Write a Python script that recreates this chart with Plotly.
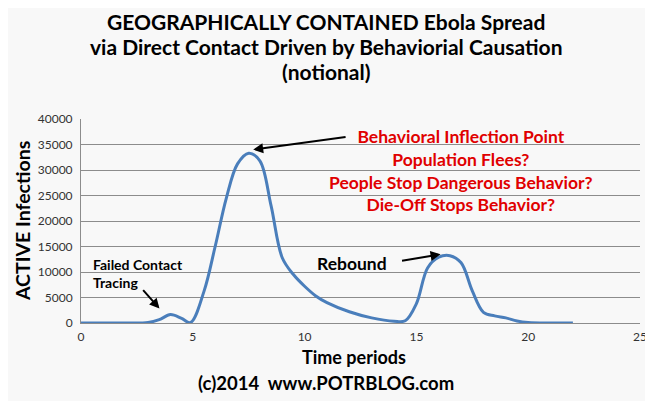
import plotly.graph_objects as go

# 时间段与活跃感染人数（示意数据，读自原图）
time_periods = [0, 1, 2, 3, 3.5, 4, 4.5, 4.9, 5.5, 6, 6.5, 7, 7.5, 8, 8.5, 9, 9.5,
                10, 10.5, 11, 12, 13, 14, 14.5, 15, 15.5, 16, 16.5, 17, 17.5,
                18, 18.5, 19, 19.5, 20, 21, 22]
active_infections = [0, 0, 0, 100, 650, 1650, 900, 100, 6200, 15000, 24500, 31200,
                     33300, 31800, 23000, 12800, 9500, 7200, 5300, 4000, 2200, 1000,
                     350, 450, 3800, 10800, 12900, 13200, 11800, 6300, 2100, 1400,
                     1000, 400, 100, 0, 0]

title_lines = [
    "GEOGRAPHICALLY CONTAINED Ebola Spread",
    "via Direct Contact Driven by Behaviorial Causation",
    "(notional)",
]
red_lines = [
    "Behavioral Inflection Point",
    "Population Flees?",
    "People Stop Dangerous Behavior?",
    "Die-Off Stops Behavior?",
]

FONT = "Lato"
BG = "#F8F8F8"
# 页面 body 默认有 8px 边距，绘图区按屏幕像素 x:81-640, y:119-323 反推
PAD = 8
PLOT_L, PLOT_R, PLOT_T, PLOT_B = 81, 640, 119, 323


def px_to_paper(px, py):
    """屏幕像素 -> 绘图区纸面坐标"""
    return ((px - PLOT_L) / (PLOT_R - PLOT_L), (PLOT_B - py) / (PLOT_B - PLOT_T))


fig = go.Figure()
fig.add_trace(go.Scatter(
    x=time_periods, y=active_infections,
    mode="lines",
    line=dict(color="#4A7EBB", width=3, shape="spline", smoothing=1),
    hoverinfo="skip",
))

annotations = []


def add_text(text, px, py, size, color="#000", **kw):
    x, y = px_to_paper(px, py)
    annotations.append(dict(text=text, xref="paper", yref="paper", x=x, y=y,
                            xanchor=kw.pop("xanchor", "center"), yanchor="middle",
                            showarrow=False, font=dict(size=size, color=color), **kw))


# 标题（每行单独放置）
for line, py in zip(title_lines, [22, 47, 72]):
    add_text(f"<b>{line}</b>", 326, py, 21)

# 坐标轴标题与版权
add_text("<b>Time periods</b>", 354, 357, 18)
add_text("<b>ACTIVE Infections</b>", 22, 221, 19.5, textangle=-90)
add_text("<b>(c)2014  www.POTRBLOG.com</b>", 326, 383, 18.5)

# 注释文字
add_text("<b>Failed Contact<br>Tracing</b>", 91, 273, 14, xanchor="left", align="left")
add_text("<b>" + "<br>".join(red_lines) + "</b>", 461, 170, 17.5, color="#E00000")
add_text("<b>Rebound</b>", 352, 263, 17.5)

# 箭头（数据坐标）
annotations += [
    dict(text="", x=3.51, y=2820, ax=2.72, ay=6750, axref="x", ayref="y",
         showarrow=True, arrowhead=2, arrowsize=1, arrowwidth=2, arrowcolor="#000"),
    dict(text="", x=7.70, y=34000, ax=11.9, ay=36500, axref="x", ayref="y",
         showarrow=True, arrowhead=2, arrowsize=1, arrowwidth=2, arrowcolor="#000"),
    dict(text="", x=16.08, y=13470, ax=14.29, ay=12160, axref="x", ayref="y",
         showarrow=True, arrowhead=2, arrowsize=1, arrowwidth=2, arrowcolor="#000"),
]

fig.update_layout(
    width=653, height=401,
    margin=dict(l=PLOT_L - PAD, r=653 - PLOT_R + PAD,
                t=PLOT_T - PAD, b=401 - PLOT_B + PAD),
    paper_bgcolor=BG, plot_bgcolor=BG,
    font=dict(family=FONT, color="#222"),
    showlegend=False,
    annotations=annotations,
)
fig.update_xaxes(range=[0, 25], dtick=5, showgrid=False, zeroline=False,
                 showline=True, linecolor="#8C8C8C", linewidth=1,
                 ticks="outside", ticklen=3, tickcolor=BG, automargin=False,
                 tickfont=dict(size=12, color="#333"))
fig.update_yaxes(range=[0, 40000], dtick=5000, tickformat="d", showgrid=True,
                 gridcolor="#8C8C8C", gridwidth=1, zeroline=False, showline=True,
                 linecolor="#8C8C8C", linewidth=1, ticks="outside", ticklen=5,
                 tickcolor=BG, automargin=False,
                 tickfont=dict(size=12, color="#333"))

fig.write_html("out.html")
